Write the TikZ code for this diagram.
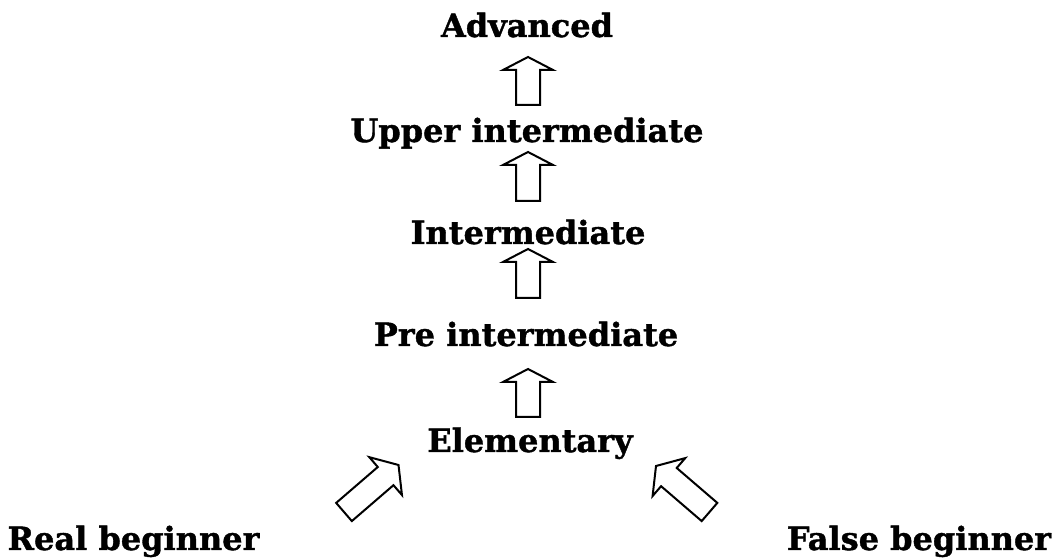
\documentclass[tikz,border=0pt]{standalone}
\usepackage{fontspec}
\setmainfont{DejaVu Serif}[BoldFeatures={FakeBold=1.2}]
\usetikzlibrary{calc}

\tikzset{
  level/.style={font=\bfseries\fontsize{16}{19}\selectfont, anchor=base, inner sep=0pt},
  blockarrow/.style={draw, line width=1pt}
}

% hollow block arrow from #2 to #3, #1 = head length
\newcommand{\fatarrow}[3][6.5pt]{%
  \coordinate (neck) at ($(#3)!#1!(#2)$);
  \draw[blockarrow] ($(#2)!6pt!90:(#3)$) -- ($(neck)!6pt!-90:(#2)$)
    -- ($(neck)!12.5pt!-90:(#2)$) -- (#3) -- ($(neck)!12.5pt!90:(#2)$)
    -- ($(neck)!6pt!90:(#2)$) -- ($(#2)!6pt!-90:(#3)$) -- cycle;}

\begin{document}
\begin{tikzpicture}[x=0.5pt,y=0.5pt]
  \useasboundingbox (0,0) rectangle (1058,560);
  \node[level] (adv) at (527,523) {Advanced};
  \node[level] (upp) at (527,418) {Upper intermediate};
  \node[level] (int) at (528,316) {Intermediate};
  \node[level] (pre) at (526,214) {Pre intermediate};
  \node[level] (ele) at (530,108) {Elementary};
  \node[level] (real) at (133.5,10) {Real beginner};
  \node[level] (false) at (919,10) {False beginner};

  \coordinate (a1s) at (528,455); \coordinate (a1e) at (528,503);
  \coordinate (a2s) at (528,359); \coordinate (a2e) at (528,408);
  \coordinate (a3s) at (528,262); \coordinate (a3e) at (528,311);
  \coordinate (a4s) at (528,143); \coordinate (a4e) at (528,191);
  \coordinate (rs) at (344,48);   \coordinate (re) at (398.5,95);
  \coordinate (fs) at (709.5,48); \coordinate (fe) at (656,94);

  \fatarrow{a1s}{a1e}
  \fatarrow{a2s}{a2e}
  \fatarrow{a3s}{a3e}
  \fatarrow{a4s}{a4e}
  \fatarrow[8.5pt]{rs}{re}
  \fatarrow[8.5pt]{fs}{fe}
\end{tikzpicture}
\end{document}
